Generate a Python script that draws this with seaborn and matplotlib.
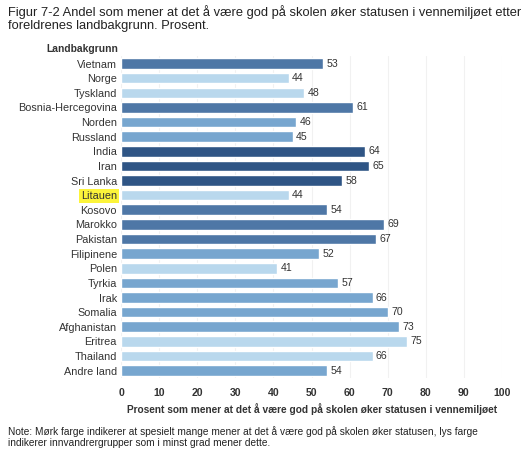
import matplotlib
matplotlib.use("Agg")
import matplotlib.pyplot as plt
import pandas as pd
import seaborn as sns

# data
countries = [
    "Vietnam", "Norge", "Tyskland", "Bosnia-Hercegovina", "Norden", "Russland",
    "India", "Iran", "Sri Lanka", "Litauen", "Kosovo", "Marokko", "Pakistan",
    "Filipinene", "Polen", "Tyrkia", "Irak", "Somalia", "Afghanistan",
    "Eritrea", "Thailand", "Andre land",
]
values = [53, 44, 48, 61, 46, 45, 64, 65, 58, 44, 54, 69, 67, 52, 41, 57, 66, 70, 73, 75, 66, 54]
# shade group: 3 = darkest, 0 = lightest
shade = [2, 0, 0, 2, 1, 1, 3, 3, 3, 0, 2, 2, 2, 1, 0, 1, 1, 1, 1, 0, 0, 1]
xticks = list(range(0, 101, 10))

shade_colors = {0: "#b9d8ed", 1: "#77a6cf", 2: "#4e77a6", 3: "#2f5585"}

df = pd.DataFrame({"land": countries, "verdi": values, "farge": shade})
palette = {c: shade_colors[s] for c, s in zip(countries, shade)}

sns.set_style("white")
plt.rcParams["font.family"] = ["Liberation Sans", "DejaVu Sans"]

fig = plt.figure(figsize=(5.29, 4.57), dpi=100)
ax = fig.add_axes([0.229, 0.173, 0.72, 0.704])

sns.barplot(data=df, x="verdi", y="land", hue="land", palette=palette,
            orient="h", width=0.72, legend=False, ax=ax, saturation=1)

ax.set_xlim(0, 100)
ax.set_ylim(len(countries) - 0.5, -0.5)
ax.set_xticks(xticks)
ax.set_xticklabels([str(t) for t in xticks], fontsize=7.6, color="#333333",
                   fontweight="bold")
ax.tick_params(axis="x", length=0, pad=7)
ax.tick_params(axis="y", length=0, pad=3)
for lbl in ax.get_yticklabels():
    lbl.set_fontsize(7.8)
    lbl.set_color("#333333")
    if lbl.get_text() == "Litauen":
        lbl.set_bbox(dict(facecolor="#fcf43a", edgecolor="none", pad=1.5))

ax.xaxis.grid(True, color="#f1f1f1", linewidth=0.8)
ax.set_axisbelow(True)
for s in ax.spines.values():
    s.set_visible(False)

for i, v in enumerate(values):
    ax.text(v + 0.9, i, str(v), va="center", ha="left", fontsize=7.6, color="#333333")

ax.set_ylabel("")
ax.set_xlabel("Prosent som mener at det å være god på skolen øker statusen i vennemiljøet",
              fontsize=7.3, fontweight="bold", color="#333333", labelpad=4)

fig.text(0.087, 0.893, "Landbakgrunn", ha="left", va="center",
         fontsize=7.4, fontweight="bold", color="#333333")

fig.text(0.015, 0.988,
         "Figur 7-2 Andel som mener at det å være god på skolen øker statusen i vennemiljøet etter\n"
         "foreldrenes landbakgrunn. Prosent.",
         ha="left", va="top", fontsize=9.3, color="#222222", linespacing=1.1)

fig.text(0.015, 0.068,
         "Note: Mørk farge indikerer at spesielt mange mener at det å være god på skolen øker statusen, lys farge\n"
         "indikerer innvandrergrupper som i minst grad mener dette.",
         ha="left", va="top", fontsize=7.3, color="#222222", linespacing=1.15)

fig.savefig("out.png", dpi=100, facecolor="white")
